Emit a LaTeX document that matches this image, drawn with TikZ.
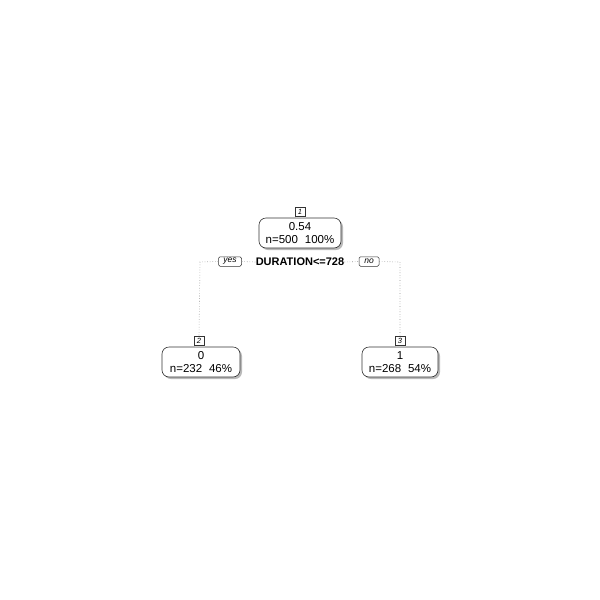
\documentclass[tikz,border=0pt]{standalone}
\usepackage{fontspec}
\setmainfont{Liberation Sans}
\usetikzlibrary{shadows}
\begin{document}
\begin{tikzpicture}[x=1pt,y=-1pt,
  leaf/.style={draw=black!80, line width=0.6pt, fill=white, rounded corners=7pt,
    minimum height=30pt, align=center, inner sep=1pt, font=\fontsize{11.5}{13}\selectfont,
    drop shadow={shadow xshift=2pt, shadow yshift=-2pt, fill=gray!55, opacity=1}},
  numbox/.style={draw=black!80, line width=0.5pt, fill=white, minimum width=10pt, minimum height=9pt,
    inner sep=0.5pt, font=\fontsize{7.5}{7.5}\selectfont\itshape,
    drop shadow={shadow xshift=1pt, shadow yshift=-1pt, fill=gray!40, opacity=1}},
  yesno/.style={draw=black!80, line width=0.5pt, fill=white, rounded corners=1.5pt, minimum height=9.5pt,
    inner ysep=0.5pt, inner xsep=3pt, font=\fontsize{8.5}{8.5}\selectfont\itshape},
  conn/.style={draw=gray!85, dotted, line width=0.6pt}]
\useasboundingbox (0,0) rectangle (600,600);
\fill[white] (0,0) rectangle (600,600);
% dotted connectors
\coordinate (cl) at (200,262);
\coordinate (cr) at (400,262);
\node[numbox] (n2) at (199,341) {2};
\node[numbox] (n3) at (400,341) {3};
\node[font=\fontsize{11}{12}\selectfont\bfseries, inner sep=0pt] (split) at (300,262) {DURATION<=728};
\node[yesno, minimum width=23pt] (yes) at (230,261.5) {yes};
\node[yesno, minimum width=20pt] (no) at (369,261.5) {no};
\draw[conn] (yes.west) -- (cl) -- (n2.north);
\draw[conn] (no.east) -- (cr) -- (n3.north);
\draw[conn] (yes.east) -- (split.west);
\draw[conn] (split.east) -- (no.west);
% nodes
\node[leaf, minimum width=82pt] (root) at (300,233) {0.54\\n=500\hspace{0.6em}100\%};
\node[numbox] (n1) at (300,212) {1};
\node[leaf, minimum width=78pt] (left) at (201,362) {0\\n=232\hspace{0.6em}46\%};
\node[leaf, minimum width=76pt] (right) at (400,362) {1\\n=268\hspace{0.6em}54\%};
\node[numbox] at (n2) {2};
\node[numbox] at (n3) {3};
\end{tikzpicture}
\end{document}
